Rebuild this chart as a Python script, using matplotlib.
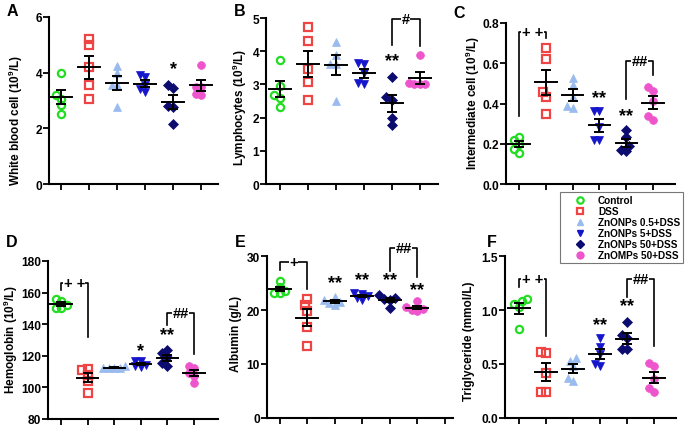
import numpy as np
import matplotlib
matplotlib.use('Agg')
import matplotlib.pyplot as plt
from matplotlib.lines import Line2D

plt.rcParams['font.family'] = ['Liberation Sans', 'DejaVu Sans']
plt.rcParams['font.weight'] = 'bold'
plt.rcParams['mathtext.fontset'] = 'custom'
plt.rcParams['mathtext.bf'] = 'Liberation Sans:bold'
plt.rcParams['mathtext.rm'] = 'Liberation Sans:bold'

# ---------------- data ----------------
groups = ['Control', 'DSS', 'ZnONPs 0.5+DSS', 'ZnONPs 5+DSS', 'ZnONPs 50+DSS', 'ZnOMPs 50+DSS']

wbc = [[4.0, 3.2, 3.05, 2.85, 2.5],
       [5.2, 5.0, 4.2, 3.55, 3.05],
       [4.25, 4.0, 3.55, 3.55, 2.75],
       [3.9, 3.85, 3.55, 3.4, 3.3],
       [3.55, 3.45, 2.8, 2.75, 2.15],
       [4.28, 3.5, 3.5, 3.22, 3.2]]

lym = [[3.73, 2.94, 2.68, 2.59, 2.33],
       [4.72, 4.3, 3.45, 3.06, 2.54],
       [4.28, 3.9, 3.6, 3.62, 2.5],
       [3.65, 3.62, 3.35, 3.05, 3.0],
       [3.23, 2.61, 2.53, 1.98, 1.78],
       [3.89, 3.05, 3.0, 3.0, 3.0]]

inter = [[0.235, 0.22, 0.2, 0.175, 0.155],
         [0.674, 0.621, 0.455, 0.43, 0.348],
         [0.525, 0.49, 0.43, 0.39, 0.38],
         [0.365, 0.365, 0.285, 0.22, 0.22],
         [0.27, 0.232, 0.19, 0.17, 0.165],
         [0.48, 0.464, 0.414, 0.34, 0.32]]

hgb = [[156.0, 155.0, 152.0, 150.0, 150.0],
       [111.5, 111.0, 108.0, 104.0, 96.5],
       [113.5, 112.5, 112.5, 112.0, 112.0],
       [117.0, 116.5, 114.0, 113.5, 113.0],
       [123.5, 122.0, 119.0, 115.5, 113.5],
       [113.5, 112.5, 109.0, 107.5, 103.0]]

alb = [[25.3, 24.2, 23.5, 23.2, 23.1],
       [22.0, 20.9, 19.9, 16.8, 13.4],
       [22.4, 21.8, 21.5, 21.3, 21.0],
       [23.2, 23.0, 22.6, 22.3, 21.9],
       [22.7, 22.3, 22.0, 21.9, 20.4],
       [21.6, 20.5, 20.2, 20.0, 19.8]]

tg = [[1.1, 1.08, 1.06, 1.03, 0.82],
      [0.615, 0.603, 0.415, 0.24, 0.24],
      [0.56, 0.53, 0.48, 0.37, 0.34],
      [0.74, 0.66, 0.59, 0.5, 0.48],
      [0.89, 0.77, 0.74, 0.64, 0.64],
      [0.51, 0.48, 0.36, 0.28, 0.24]]

ylabels = ['White blood cell (10$^{\\mathbf{9}}$/L)',
           'Lymphocytes (10$^{\\mathbf{9}}$/L)',
           'Intermediate cell (10$^{\\mathbf{9}}$/L)',
           'Hemoglobin (10$^{\\mathbf{9}}$/L)',
           'Albumin (g/L)',
           'Triglyceride (mmol/L)']
panel_letters = ['A', 'B', 'C', 'D', 'E', 'F']

# significance annotations: (group, text, y)
stars = [[(4, '*', 4.14)],
         [(4, '**', 3.73)],
         [(3, '**', 0.43), (4, '**', 0.34)],
         [(3, '*', 123.6), (4, '**', 133.7)],
         [(2, '**', 25.1), (3, '**', 25.7), (4, '**', 25.7), (5, '**', 23.85)],
         [(3, '**', 0.861), (4, '**', 1.039)]]
# brackets: (g1, g2, text, top, left_bottom, right_bottom)
brackets = [[],
            [(4, 5, '#', 4.97, 4.2, 4.17)],
            [(0, 1, '+ +', 0.754, 0.34, 0.724), (4, 5, '##', 0.613, 0.42, 0.542)],
            [(0, 1, '+ +', 166.3, 161.7, 131.6), (4, 5, '##', 147.4, 139.4, 121.0)],
            [(0, 1, '+', 28.95, 27.4, 23.85), (4, 5, '##', 31.5, 27.2, 26.2)],
            [(0, 1, '+ +', 1.285, 1.217, 0.762), (4, 5, '##', 1.285, 1.125, 0.67)]]

# ---------------- styles ----------------
colors = ['#22DD22', '#EE4444', '#99BBEE', '#1515CC', '#0B0B70', '#EE55CC']
markers = ['o', 's', '^', 'v', 'D', 'o']
filled = [False, False, True, True, True, True]
msizes = [5.2, 5.2, 5.6, 5.6, 4.6, 5.6]

W, H = 685, 427
fig = plt.figure(figsize=(W / 100, H / 100), dpi=100)

specs = [
    dict(box=(49, 218, 18, 185), xlim=(-0.43, 5.6), ylim=(0, 6), yt=[0, 2, 4, 6], nt=6, fmt='{:.0f}', lab=(16, 120)),
    dict(box=(266, 438, 19, 185), xlim=(-0.5, 5.65), ylim=(0, 5), yt=[0, 1, 2, 3, 4, 5], nt=6, fmt='{:.0f}', lab=(240, 108)),
    dict(box=(506, 675, 24, 185), xlim=(-0.49, 5.82), ylim=(0, 0.8), yt=[0, 0.2, 0.4, 0.6, 0.8], nt=6, fmt='{:.1f}', lab=(473, 103)),
    dict(box=(48, 218, 262, 420), xlim=(-0.49, 5.9), ylim=(80, 180), yt=[80, 100, 120, 140, 160, 180], nt=6, fmt='{:.0f}', lab=(11, 340)),
    dict(box=(267, 453, 257, 419), xlim=(-0.47, 6.3), ylim=(0, 30), yt=[0, 10, 20, 30], nt=7, fmt='{:.0f}', lab=(236, 334)),
    dict(box=(505, 676, 257, 419), xlim=(-0.52, 5.81), ylim=(0, 1.5), yt=[0, 0.5, 1.0, 1.5], nt=6, fmt='{:.1f}', lab=(469, 341)),
]
letter_pos = [(12, 11), (240, 11), (459, 13), (12, 243), (240, 243), (492, 243)]
datasets = [wbc, lym, inter, hgb, alb, tg]


def swarm(ax, vals, d_px, ppu):
    ys = ax.transData.transform(np.column_stack([np.zeros(len(vals)), vals]))[:, 1]
    order = np.argsort(ys)
    placed = []
    offs = np.zeros(len(vals))
    cands = [0]
    for k in range(1, 10):
        cands += [-k * d_px * 0.5, k * d_px * 0.5]
    for i in order:
        for c in cands:
            if all((c - px) ** 2 + (ys[i] - py) ** 2 >= d_px ** 2 for px, py in placed):
                offs[i] = c / ppu
                placed.append((c, ys[i]))
                break
    return offs


for p, (sp, data) in enumerate(zip(specs, datasets)):
    l, r, t, b = sp['box']
    ax = fig.add_axes([l / W, 1 - b / H, (r - l) / W, (b - t) / H])
    ax.set_xlim(*sp['xlim'])
    ax.set_ylim(*sp['ylim'])
    for s in ['top', 'right']:
        ax.spines[s].set_visible(False)
    for s in ['left', 'bottom']:
        ax.spines[s].set_linewidth(1.5)
    ax.set_xticks(range(sp['nt']))
    ax.set_xticklabels([])
    ax.set_yticks(sp['yt'])
    ax.set_yticklabels([sp['fmt'].format(v) for v in sp['yt']], fontsize=8.6, fontweight='bold')
    ax.tick_params(axis='both', length=4, width=1.3, direction='out', pad=1.0)
    ax.set_ylabel(ylabels[p], fontsize=8.5, fontweight='bold', va='center')
    ax.yaxis.set_label_coords((sp['lab'][0] - l) / (r - l), (b - sp['lab'][1]) / (b - t))

    ppu = (r - l) / (sp['xlim'][1] - sp['xlim'][0])
    for g, vals in enumerate(data):
        vals = np.array(vals)
        offs = swarm(ax, vals, 5.5, ppu)
        if filled[g]:
            ax.plot(g + offs, vals, ls='none', marker=markers[g], ms=msizes[g],
                    mfc=colors[g], mec=colors[g], mew=0.5, zorder=3, clip_on=False)
        else:
            ax.plot(g + offs, vals, ls='none', marker=markers[g], ms=msizes[g],
                    mfc='none', mec=colors[g], mew=1.6, zorder=3, clip_on=False)
        m = vals.mean()
        se = vals.std(ddof=1) / np.sqrt(len(vals))
        ax.plot([g - 0.4, g + 0.4], [m, m], color='black', lw=1.4, zorder=4)
        ax.errorbar([g], [m], yerr=[se], fmt='none', ecolor='black', elinewidth=1.4,
                    capsize=3.5, capthick=1.4, zorder=4)

    for g, txt, y in stars[p]:
        ax.text(g, y, txt, ha='center', va='center', fontsize=13, fontweight='bold',
                zorder=5, clip_on=False)
    for g1, g2, txt, top, lb, rb in brackets[p]:
        ax.plot([g1, g1, g2, g2], [lb, top, top, rb], color='black', lw=1.2,
                zorder=5, clip_on=False)
        ax.text((g1 + g2) / 2, top, txt, ha='center', va='center', fontsize=10.5,
                fontweight='bold', zorder=6, clip_on=False,
                bbox=dict(fc='white', ec='none', pad=0.3))

for (x, y), letter in zip(letter_pos, panel_letters):
    fig.text(x / W, 1 - y / H, letter, ha='center', va='center', fontsize=11.5, fontweight='bold')

handles = []
for g in range(6):
    if filled[g]:
        h = Line2D([], [], ls='none', marker=markers[g], ms=msizes[g] - 0.6, mfc=colors[g], mec=colors[g])
    else:
        h = Line2D([], [], ls='none', marker=markers[g], ms=msizes[g] - 0.6, mfc='none', mec=colors[g], mew=1.6)
    handles.append(h)
leg = fig.legend(handles, groups, loc='upper left', bbox_to_anchor=(560 / W, 1 - 193 / H),
                 frameon=True, fancybox=False, edgecolor='#555555',
                 prop=dict(weight='bold', size=7.2), labelspacing=0.1, borderpad=0.3,
                 handlelength=3.4, handletextpad=0.1, borderaxespad=0)
leg.get_frame().set_linewidth(0.8)

fig.savefig('out.png', dpi=100)
